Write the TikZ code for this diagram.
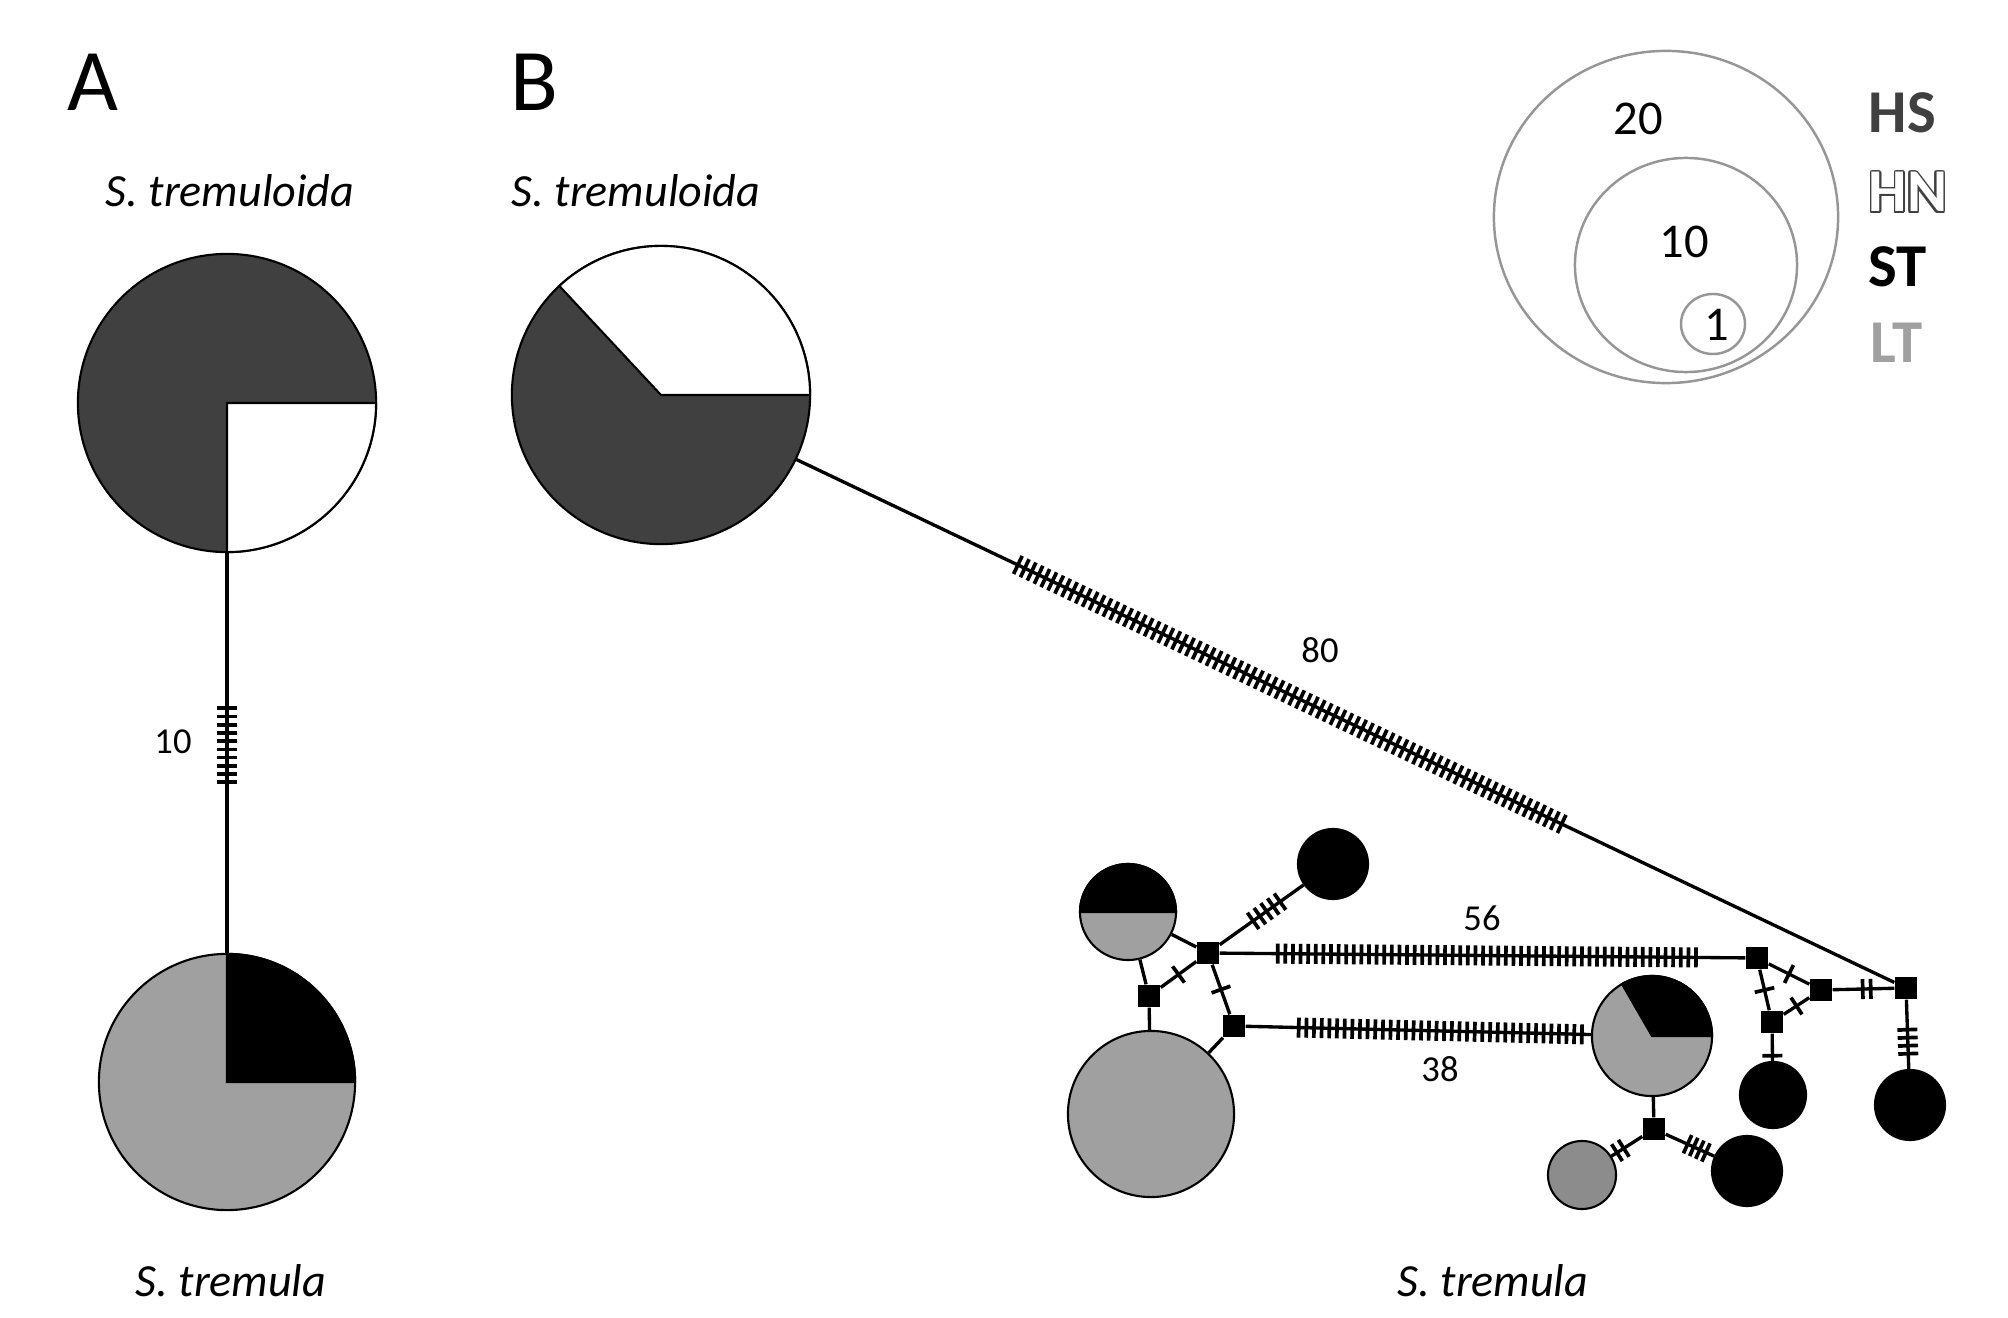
\documentclass[tikz,border=0pt]{standalone}
\usepackage{fontspec}
\setmainfont{Carlito}
\usepackage{xcolor}
\usepackage[copies]{contour}
\usepackage{tikz}
\usetikzlibrary{decorations.markings,positioning}
\definecolor{hsgray}{RGB}{64,64,64}
\definecolor{ltgray}{RGB}{160,160,160}
\definecolor{dimgray}{RGB}{140,140,140}
\definecolor{ringgray}{RGB}{150,150,150}
\contourlength{0.45pt}

\begin{document}
\begin{tikzpicture}[x=0.01cm, y=0.01cm,
  hap/.style={circle, draw, line width=0.6pt, inner sep=0pt, minimum size=#1*0.02cm},
  med/.style={rectangle, fill=black, inner sep=0pt, minimum size=0.22cm},
  link/.style={line width=0.95pt},
  wedge/.style={draw=black, line width=0.6pt},
  tickmark/.style={line width=1.05pt},
  muts/.style n args={3}{postaction={decorate, decoration={markings,
      mark=between positions #1 and #2 step #3 with {\draw[tickmark] (0,-10) -- (0,10);}}}},
  onemut/.style={postaction={decorate, decoration={markings,
      mark=at position #1 with {\draw[tickmark] (0,-10) -- (0,10);}}}},
  onemut/.default=0.5,
  panel/.style={font=\fontsize{25}{30}\selectfont, anchor=base, inner sep=0pt},
  taxon/.style={font=\fontsize{13.1}{16}\selectfont\itshape, anchor=base, inner sep=0pt},
  count/.style={font=\fontsize{10.4}{12}\selectfont, inner sep=0pt},
  sizenum/.style={font=\fontsize{13.8}{16}\selectfont, inner sep=0pt},
  key/.style={font=\fontsize{17.3}{20}\selectfont\bfseries, anchor=base west, inner sep=0pt}
]
  \useasboundingbox (0,0) rectangle (2008,1317);

  % ── A: two haplotypes ──
  \node[panel] (labA) at (93,1206) {A};
  \node[taxon] (taxA1) at (230,1110) {S. tremuloida};
  \node[taxon] (taxA2) at (231,21) {S. tremula};

  \node[hap=149, fill=hsgray] (atreml) at (227,914) {};
  \filldraw[wedge, fill=white] (atreml.center) -- ++(-90:1.49cm)
    arc[start angle=-90, end angle=0, radius=1.49cm] -- cycle;

  \node[hap=128, fill=ltgray] (atrem) at (227,235) {};
  \filldraw[wedge, fill=black] (atrem.center) -- ++(0:1.28cm)
    arc[start angle=0, end angle=90, radius=1.28cm] -- cycle;

  \draw[link, muts={1.55cm}{2.30cm}{0.0822cm}] (atreml) -- (atrem);
  \node[count] (nA) at (173,575) {10};

  % ── B: network ──
  \node[panel] (labB) at (534,1206) {B};
  \node[taxon] (taxB1) at (636,1110) {S. tremuloida};
  \node[taxon] (taxB2) at (1493,21) {S. tremula};

  \node[hap=149, fill=hsgray] (btreml) at (661,922) {};
  \filldraw[wedge, fill=white] (btreml.center) -- ++(0:1.49cm)
    arc[start angle=0, end angle=133, radius=1.49cm] -- cycle;

  % haplotypes of S. tremula
  \node[hap=48, fill=ltgray] (h1) at (1128,405) {};
  \filldraw[wedge, fill=black] (h1.center) -- ++(0:0.48cm)
    arc[start angle=0, end angle=180, radius=0.48cm] -- cycle;
  \node[hap=35, fill=black] (h2) at (1333,453) {};
  \node[hap=83, fill=ltgray] (h3) at (1151,203) {};
  \node[hap=60, fill=ltgray] (h4) at (1652,281) {};
  \filldraw[wedge, fill=black] (h4.center) -- ++(0:0.60cm)
    arc[start angle=0, end angle=120, radius=0.60cm] -- cycle;
  \node[hap=34, fill=dimgray] (h5) at (1582,142) {};
  \node[hap=35, fill=black] (h6) at (1747,146) {};
  \node[hap=33, fill=black] (h7) at (1773,222) {};
  \node[hap=35, fill=black] (h8) at (1910,212) {};

  % median vectors
  \node[med] (mv1) at (1208,364) {};
  \node[med] (mv2) at (1149,321) {};
  \node[med] (mv3) at (1234,291) {};
  \node[med] (mv4) at (1757,359) {};
  \node[med] (mv5) at (1654,188) {};
  \node[med] (mv6) at (1821,327) {};
  \node[med] (mv7) at (1772,295) {};
  \node[med] (mv8) at (1906,329) {};

  % links
  \draw[link, muts={2.45cm}{8.50cm}{0.0762cm}] (btreml) -- (mv8);
  \node[count] (n80) at (1320,667) {80};

  \draw[link] (h1) -- (mv1);
  \draw[link] (h1) -- (mv2);
  \draw[link] (mv2) -- (h3);
  \draw[link] (mv3) -- (h3);
  \draw[link, onemut] (mv1) -- (mv2);
  \draw[link, onemut] (mv1) -- (mv3);
  \draw[link, muts={0.41cm}{0.76cm}{0.0825cm}] (mv1) -- (h2);

  \draw[link, muts={0.58cm}{4.79cm}{0.076cm}] (mv1) -- (mv4);
  \node[count] (n56) at (1482,399) {56};
  \draw[link, muts={0.53cm}{3.39cm}{0.0765cm}] (mv3) -- (h4);
  \node[count] (n38) at (1440,248) {38};

  \draw[link] (h4) -- (mv5);
  \draw[link, muts={0.22cm}{0.32cm}{0.08cm}] (mv5) -- (h5);
  \draw[link, muts={0.24cm}{0.45cm}{0.067cm}] (mv5) -- (h6);

  \draw[link, onemut] (mv4) -- (mv6);
  \draw[link, onemut] (mv4) -- (mv7);
  \draw[link, onemut] (mv7) -- (mv6);
  \draw[link, onemut=0.22cm] (mv7) -- (h7);
  \draw[link, muts={0.30cm}{0.39cm}{0.08cm}] (mv6) -- (mv8);
  \draw[link, muts={0.30cm}{0.55cm}{0.08cm}] (mv8) -- (h8);

  % ── legend ──
  \draw[ringgray, line width=0.7pt] (1666,1100) ellipse [x radius=1.72cm, y radius=1.66cm];
  \draw[ringgray, line width=0.7pt] (1686,1052) ellipse [x radius=1.11cm, y radius=1.07cm];
  \draw[ringgray, line width=0.7pt] (1713,993) ellipse [x radius=0.32cm, y radius=0.30cm];
  \node[sizenum] (s20) at (1638,1198) {20};
  \node[sizenum] (s10) at (1684,1075) {10};
  \node[sizenum] (s1) at (1717,992) {1};

  \node[key, text=hsgray] (kHS) at (1868,1184) {HS};
  \node[key, text=white] (kHN) at (1868,1105) {\contour{black!75}{HN}};
  \node[key, text=black] (kST) at (1868,1030) {ST};
  \node[key, text=ltgray] (kLT) at (1870,954) {LT};
\end{tikzpicture}
\end{document}
